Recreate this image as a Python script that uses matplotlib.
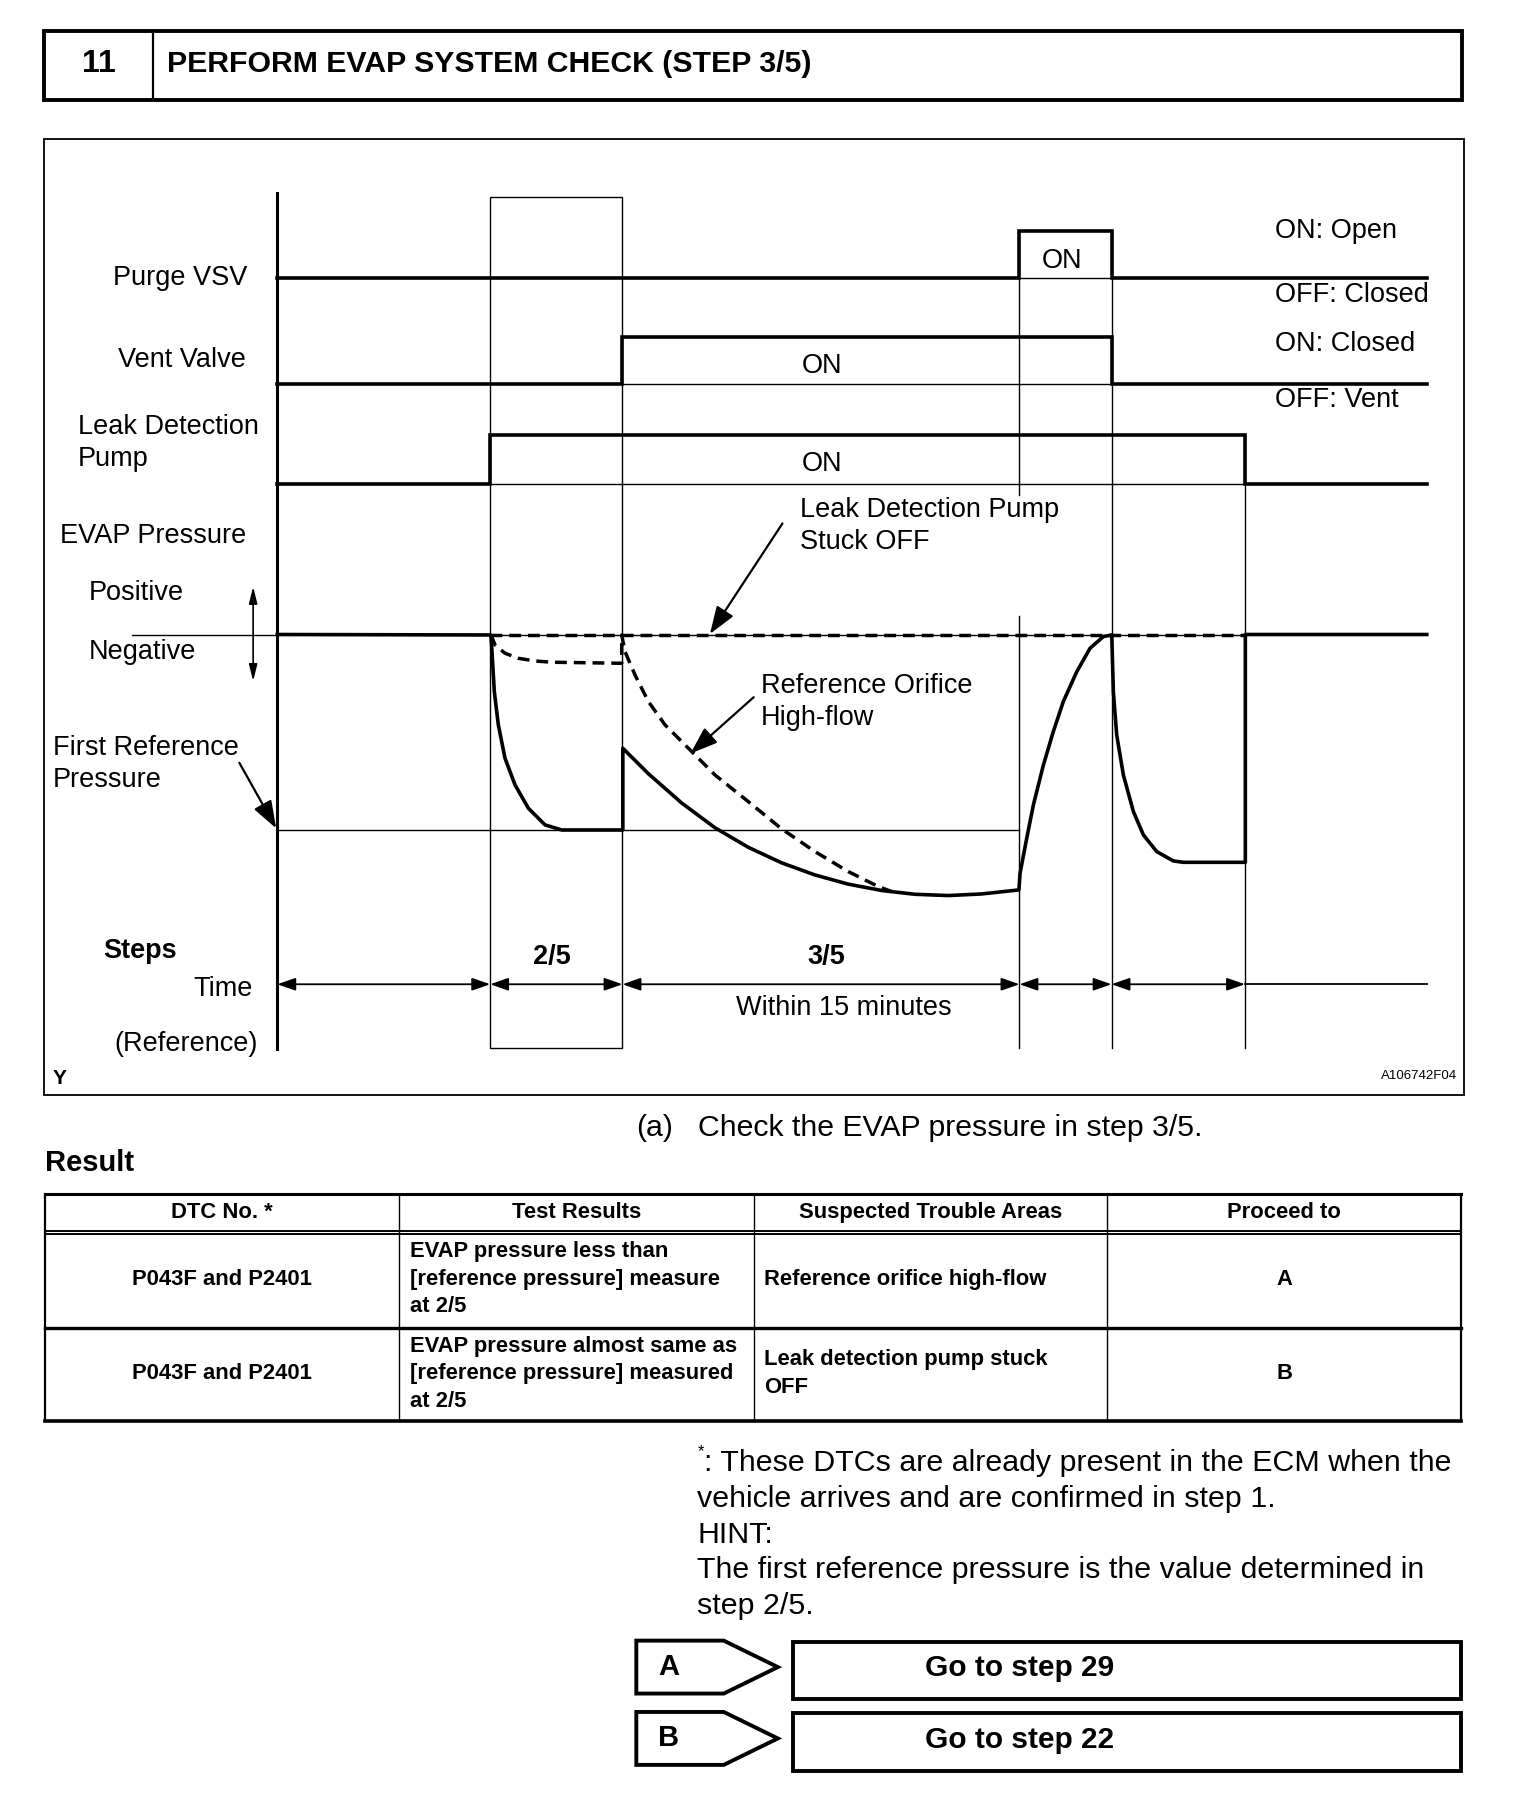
import matplotlib.pyplot as plt
from matplotlib.patches import FancyArrowPatch, Polygon, Rectangle

plt.rcParams['font.family'] = ['Liberation Sans', 'DejaVu Sans']

# ---------------- data ----------------
step_no = '11'
title = 'PERFORM EVAP SYSTEM CHECK (STEP 3/5)'

# event times on the time axis: start, 2/5 start, 3/5 start, purge on, purge off, pump off, end
event_t = [241, 426, 541, 886, 966, 1082, 1240]
step_names = ['2/5', '3/5']
step_centers = [480, 718]
time_note = 'Within 15 minutes'

# ON/OFF state of each signal for every interval between events
purge_on = [0, 0, 0, 1, 0, 0]
vent_on = [0, 0, 1, 1, 0, 0]
pump_on = [0, 1, 1, 1, 1, 0]

# EVAP pressure levels
p_zero = 551.5
p_first_ref = 721.5

# normal pressure trace (time, pressure)
normal_t = [241, 426.7, 427.9, 429.6, 433.1, 438.9, 447.6, 459.2, 473.7, 488.2, 541.3,
            541.3, 563.5, 592.5, 621.4, 650.4, 679.4, 708.3, 737.3, 766.3, 795.2, 824.2,
            853.2, 885.5, 886.5, 892.3, 898.1, 906.8, 915.4, 924.1, 935.8, 947.3, 958.9,
            966.2, 967.6, 970.5, 976.3, 985.0, 993.7, 1005.3, 1019.7, 1028.4, 1082.3,
            1082.3, 1240]
normal_p = [551.5, 551.9, 572.2, 601.2, 630.1, 659.1, 682.2, 702.5, 717.0, 721.4, 721.4,
            650.4, 672.5, 698.0, 719.5, 736.5, 750.0, 760.5, 768.5, 774.0, 777.3, 778.4,
            777.0, 773.5, 759.0, 728.6, 699.6, 664.9, 635.9, 609.8, 583.8, 563.5, 553.3,
            551.9, 601.2, 638.8, 673.6, 705.4, 725.7, 740.2, 748.3, 749.5, 749.5,
            551.5, 551.5]

# reference orifice high-flow trace
highflow_t = [426.7, 430.2, 438.9, 450.5, 465.0, 479.5, 540.3, 540.3, 543.2, 551.9, 563.5,
              578.0, 601.2, 621.4, 650.4, 679.4, 708.3, 737.3, 763.4, 775.0]
highflow_p = [551.9, 560.6, 567.8, 572.2, 574.5, 575.6, 576.5, 551.9, 566.4, 586.7, 609.8,
              630.1, 653.3, 673.6, 696.8, 720.5, 740.2, 757.6, 770.6, 775.0]

# result table
col_heads = ['DTC No. *', 'Test Results', 'Suspected Trouble Areas', 'Proceed to']
dtc = ['P043F and P2401', 'P043F and P2401']
test_results = [['EVAP pressure less than', '[reference pressure] measure', 'at 2/5'],
                ['EVAP pressure almost same as', '[reference pressure] measured', 'at 2/5']]
trouble_areas = [['Reference orifice high-flow'], ['Leak detection pump stuck', 'OFF']]
proceed = ['A', 'B']
goto = ['Go to step 29', 'Go to step 22']

note_lines = [': These DTCs are already present in the ECM when the',
              'vehicle arrives and are confirmed in step 1.',
              'HINT:',
              'The first reference pressure is the value determined in',
              'step 2/5.']

# ---------------- figure ----------------
fig = plt.figure(figsize=(15.2, 18.04), dpi=100)
ax = fig.add_axes([0, 0, 1, 1])
ax.set_xlim(0, 1321)
ax.set_ylim(1568, 0)
ax.axis('off')

THICK = 2.6
THIN = 1.0
FS = 19.5
DASH = (0, (3.4, 2.0))

# header
ax.add_patch(Rectangle((38, 27), 1233, 60, fill=False, lw=2.8, ec='black'))
ax.plot([133, 133], [27, 87], color='black', lw=1.6)
ax.text(86, 56, step_no, fontsize=23, fontweight='bold', ha='center', va='center')
ax.text(145, 56, title, fontsize=21.8, fontweight='bold', ha='left', va='center')

# diagram frame
ax.add_patch(Rectangle((38, 121), 1234, 831, fill=False, lw=1.3, ec='black'))

# left axis
ax.plot([event_t[0], event_t[0]], [168, 912], color='black', lw=2.2)

# step 2/5 window
ax.add_patch(Rectangle((event_t[1], 171), event_t[2] - event_t[1], 740,
                       fill=False, lw=THIN, ec='black'))
# other event markers
ax.plot([event_t[3], event_t[3]], [201, 430], color='black', lw=THIN)
ax.plot([event_t[3], event_t[3]], [535, 911], color='black', lw=THIN)
ax.plot([event_t[4], event_t[4]], [201, 911], color='black', lw=THIN)
ax.plot([event_t[5], event_t[5]], [378, 911], color='black', lw=THIN)


def draw_signal(states, y_off, y_on):
    xs, ys = [], []
    for i, s in enumerate(states):
        y = y_on if s else y_off
        xs += [event_t[i], event_t[i + 1]]
        ys += [y, y]
        if s:
            ax.plot([event_t[i], event_t[i + 1]], [y_off, y_off], color='black', lw=THIN)
    ax.plot(xs, ys, color='black', lw=THICK, solid_joinstyle='miter')


draw_signal(purge_on, 242, 201)
draw_signal(vent_on, 334, 293)
draw_signal(pump_on, 421, 378)

ax.text(923, 227, 'ON', fontsize=FS, ha='center', va='center')
ax.text(697, 318, 'ON', fontsize=FS, ha='left', va='center')
ax.text(697, 403, 'ON', fontsize=FS, ha='left', va='center')

# right side legend
for txt, y in zip(['ON: Open', 'OFF: Closed', 'ON: Closed', 'OFF: Vent'], [201, 256, 299, 348]):
    ax.text(1108, y, txt, fontsize=FS, ha='left', va='center')

# left labels
ax.text(215, 242, 'Purge VSV', fontsize=FS, ha='right', va='center')
ax.text(214, 313, 'Vent Valve', fontsize=FS, ha='right', va='center')
ax.text(68, 371, 'Leak Detection', fontsize=FS, ha='left', va='center')
ax.text(68, 399, 'Pump', fontsize=FS, ha='left', va='center')
ax.text(52, 466, 'EVAP Pressure', fontsize=FS, ha='left', va='center')
ax.text(77, 515, 'Positive', fontsize=FS, ha='left', va='center')
ax.text(77, 567, 'Negative', fontsize=FS, ha='left', va='center')
ax.text(46, 650, 'First Reference', fontsize=FS, ha='left', va='center')
ax.text(46, 678, 'Pressure', fontsize=FS, ha='left', va='center')
ax.text(90, 827, 'Steps', fontsize=FS, fontweight='bold', ha='left', va='center')
ax.text(220, 860, 'Time', fontsize=FS, ha='right', va='center')
ax.text(224, 907, '(Reference)', fontsize=FS, ha='right', va='center')
ax.text(46, 937, 'Y', fontsize=15, fontweight='bold', ha='left', va='center')
ax.text(1266, 935, 'A106742F04', fontsize=9.5, ha='right', va='center')

# positive / negative double arrow and zero mark
ax.add_patch(FancyArrowPatch((220, 510), (220, 592), arrowstyle='<|-|>,head_length=1.0,head_width=0.25',
                             mutation_scale=10, lw=1.2, color='black', shrinkA=0, shrinkB=0))
ax.plot([115, event_t[0]], [p_zero, p_zero], color='black', lw=THIN)

# pressure reference lines
ax.plot([event_t[0], event_t[3]], [p_first_ref, p_first_ref], color='black', lw=THIN)
ax.plot([event_t[1], event_t[5]], [p_zero, p_zero], color='black', lw=THIN)
ax.plot([event_t[1], event_t[5]], [p_zero, p_zero], color='black', lw=2.5, linestyle=DASH)

# pressure traces
ax.plot(normal_t, normal_p, color='black', lw=THICK, solid_joinstyle='round')
ax.plot(highflow_t, highflow_p, color='black', lw=2.5, linestyle=DASH)

# pointer arrows
def pointer(x0, y0, x1, y1):
    ax.add_patch(FancyArrowPatch((x0, y0), (x1, y1), arrowstyle='-|>,head_length=1.4,head_width=0.5',
                                 mutation_scale=12, lw=1.6, color='black', shrinkA=0, shrinkB=0))


ax.text(695, 443, 'Leak Detection Pump', fontsize=FS, ha='left', va='center')
ax.text(695, 471, 'Stuck OFF', fontsize=FS, ha='left', va='center')
pointer(680, 455, 617, 551)
ax.text(661, 596, 'Reference Orifice', fontsize=FS, ha='left', va='center')
ax.text(661, 624, 'High-flow', fontsize=FS, ha='left', va='center')
pointer(655, 606, 600, 655)
pointer(208, 663, 240, 720)

# steps and time axis
for name, cx in zip(step_names, step_centers):
    ax.text(cx, 832, name, fontsize=FS, fontweight='bold', ha='center', va='center')
y_time = 855.5
for a, b in zip(event_t[:5], event_t[1:6]):
    ax.add_patch(FancyArrowPatch((a, y_time), (b, y_time),
                                 arrowstyle='<|-|>,head_length=1.0,head_width=0.35',
                                 mutation_scale=11, lw=1.3, color='black', shrinkA=0, shrinkB=0))
ax.plot([event_t[5], event_t[6]], [y_time, y_time], color='black', lw=1.3)
ax.text(733, 876, time_note, fontsize=FS, ha='center', va='center')

# ---------------- text below the diagram ----------------
ax.text(553, 980, '(a)', fontsize=21.8, ha='left', va='center')
ax.text(607, 980, 'Check the EVAP pressure in step 3/5.', fontsize=21.8, ha='left', va='center')
ax.text(39, 1011, 'Result', fontsize=21, fontweight='bold', ha='left', va='center')

# table
tx = [39, 347, 655, 962, 1270]
ty_top, ty_h1, ty_h2, ty_r1, ty_r2 = 1038, 1070, 1073, 1154, 1235.5
TFS = 15.8
ax.plot([tx[0], tx[-1]], [ty_top, ty_top], color='black', lw=2.2)
ax.plot([tx[0], tx[-1]], [ty_h1, ty_h1], color='black', lw=1.4)
ax.plot([tx[0], tx[-1]], [ty_h2, ty_h2], color='black', lw=1.4)
ax.plot([tx[0], tx[-1]], [ty_r1, ty_r1], color='black', lw=2.4)
ax.plot([tx[0], tx[-1]], [ty_r2, ty_r2], color='black', lw=2.6)
for x in tx:
    lw = 1.6 if x in (tx[0], tx[-1]) else 1.0
    ax.plot([x, x], [ty_top, ty_r2], color='black', lw=lw)
for i, h in enumerate(col_heads):
    ax.text((tx[i] + tx[i + 1]) / 2, 1054, h, fontsize=TFS, fontweight='bold', ha='center', va='center')

row_mid = [1112, 1194]
for r in range(2):
    ax.text((tx[0] + tx[1]) / 2, row_mid[r], dtc[r], fontsize=TFS, fontweight='bold', ha='center', va='center')
    for k, line in enumerate(test_results[r]):
        ax.text(356, row_mid[r] - 24 + 24 * k, line, fontsize=TFS, fontweight='bold', ha='left', va='center')
    n = len(trouble_areas[r])
    for k, line in enumerate(trouble_areas[r]):
        ax.text(664, row_mid[r] - 12 * (n - 1) + 24 * k, line, fontsize=TFS, fontweight='bold',
                ha='left', va='center')
    ax.text((tx[3] + tx[4]) / 2, row_mid[r], proceed[r], fontsize=TFS, fontweight='bold',
            ha='center', va='center')

# footnote and hint
ax.text(606, 1262, '*', fontsize=12, ha='left', va='center')
ax.text(612, 1272, note_lines[0], fontsize=21.9, ha='left', va='center')
for k, line in enumerate(note_lines[1:]):
    ax.text(606, 1303 + 31 * k, line, fontsize=21.9, ha='left', va='center')

# proceed buttons
for k, (lab, txt) in enumerate(zip(proceed, goto)):
    y0 = 1426 + 62 * k
    ax.add_patch(Polygon([(553, y0), (629, y0), (676, y0 + 23), (629, y0 + 46), (553, y0 + 46)],
                         closed=True, fill=False, lw=2.8, ec='black', joinstyle='miter'))
    ax.text(581, y0 + 23, lab, fontsize=21, fontweight='bold', ha='center', va='center')
    ax.add_patch(Rectangle((689, y0 + 1), 581, 50, fill=False, lw=2.8, ec='black'))
    ax.text(886, y0 + 24, txt, fontsize=21.5, fontweight='bold', ha='center', va='center')

fig.savefig('out.png', dpi=100, facecolor='white')
